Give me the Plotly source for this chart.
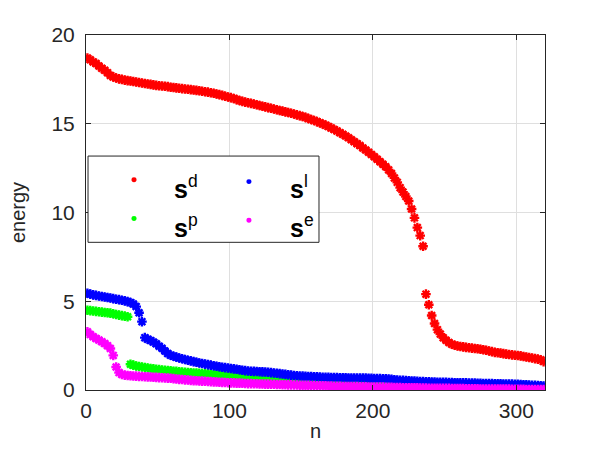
import plotly.graph_objects as go

# n indices (odd samples 1..319)
n_vals = list(range(1, 320, 2))

s_d = [
    18.70, 18.60, 18.48, 18.40, 18.25, 18.12, 18.02, 17.88, 17.72, 17.64,
    17.58, 17.53, 17.50, 17.46, 17.43, 17.41, 17.38, 17.35, 17.32, 17.30,
    17.27, 17.24, 17.22, 17.19, 17.16, 17.14, 17.13, 17.11, 17.09, 17.06,
    17.04, 17.02, 17.00, 16.98, 16.96, 16.94, 16.92, 16.90, 16.88, 16.86,
    16.83, 16.80, 16.78, 16.75, 16.72, 16.68, 16.64, 16.60, 16.55, 16.51,
    16.47, 16.42, 16.36, 16.31, 16.26, 16.22, 16.18, 16.15, 16.11, 16.07,
    16.03, 15.99, 15.95, 15.91, 15.87, 15.83, 15.79, 15.75, 15.71, 15.67,
    15.63, 15.59, 15.55, 15.50, 15.46, 15.41, 15.36, 15.30, 15.24, 15.18,
    15.12, 15.06, 14.99, 14.92, 14.84, 14.76, 14.68, 14.59, 14.50, 14.41,
    14.31, 14.21, 14.10, 13.99, 13.88, 13.77, 13.64, 13.52, 13.40, 13.27,
    13.14, 13.00, 12.86, 12.72, 12.58, 12.40, 12.20, 11.95, 11.70, 11.40,
    11.15, 10.90, 10.65, 10.20, 9.70, 9.15, 8.70, 8.10, 5.40, 4.80,
    4.20, 3.75, 3.40, 3.15, 2.95, 2.80, 2.68, 2.58, 2.52, 2.48,
    2.45, 2.43, 2.40, 2.38, 2.36, 2.34, 2.32, 2.30, 2.27, 2.24,
    2.20, 2.16, 2.12, 2.10, 2.08, 2.05, 2.02, 2.00, 1.98, 1.96,
    1.94, 1.92, 1.89, 1.86, 1.83, 1.80, 1.77, 1.74, 1.70, 1.60,
]

s_p = [
    4.49, 4.47, 4.45, 4.43, 4.41, 4.39, 4.37, 4.35, 4.33, 4.30,
    4.25, 4.22, 4.19, 4.16, 4.13, 1.45, 1.40, 1.35, 1.32, 1.30,
    1.27, 1.24, 1.21, 1.19, 1.17, 1.15, 1.13, 1.11, 1.10, 1.08,
    1.06, 1.05, 1.03, 1.01, 1.00, 0.99, 0.97, 0.96, 0.95, 0.94,
    0.93, 0.92, 0.91, 0.90, 0.89, 0.88, 0.87, 0.86, 0.85, 0.84,
    0.82, 0.81, 0.79, 0.77, 0.75, 0.74, 0.73, 0.72, 0.71, 0.70,
    0.69, 0.68, 0.67, 0.66, 0.65, 0.64, 0.63, 0.62, 0.61, 0.60,
    0.60, 0.59, 0.59, 0.58, 0.58, 0.57, 0.57, 0.56, 0.56, 0.55,
    0.55, 0.54, 0.54, 0.53, 0.53, 0.52, 0.52, 0.51, 0.51, 0.50,
    0.50, 0.49, 0.49, 0.49, 0.48, 0.48, 0.48, 0.47, 0.47, 0.47,
    0.46, 0.46, 0.46, 0.45, 0.45, 0.45, 0.44, 0.44, 0.44, 0.43,
    0.43, 0.43, 0.42, 0.42, 0.41, 0.41, 0.40, 0.39, 0.38, 0.37,
    0.36, 0.35, 0.34, 0.33, 0.32, 0.31, 0.30, 0.29, 0.28, 0.27,
    0.26, 0.25, 0.24, 0.23, 0.22, 0.21, 0.20, 0.19, 0.18, 0.17,
    0.16, 0.15, 0.14, 0.13, 0.12, 0.11, 0.10, 0.09, 0.08, 0.07,
    0.07, 0.06, 0.06, 0.05, 0.05, 0.04, 0.04, 0.03, 0.03, 0.02,
]

s_l = [
    5.45, 5.40, 5.36, 5.33, 5.30, 5.27, 5.24, 5.21, 5.18, 5.15,
    5.11, 5.09, 5.06, 5.02, 4.98, 4.93, 4.85, 4.70, 4.35, 3.85,
    2.95, 2.86, 2.79, 2.70, 2.60, 2.47, 2.35, 2.20, 2.05, 1.96,
    1.90, 1.85, 1.80, 1.76, 1.72, 1.68, 1.64, 1.60, 1.56, 1.52,
    1.49, 1.46, 1.43, 1.40, 1.37, 1.34, 1.31, 1.28, 1.26, 1.24,
    1.21, 1.19, 1.17, 1.14, 1.11, 1.09, 1.07, 1.06, 1.05, 1.04,
    1.03, 1.02, 1.01, 1.00, 0.98, 0.96, 0.94, 0.92, 0.90, 0.88,
    0.86, 0.84, 0.82, 0.80, 0.79, 0.78, 0.77, 0.76, 0.76, 0.75,
    0.74, 0.73, 0.72, 0.71, 0.71, 0.70, 0.70, 0.70, 0.69, 0.69,
    0.69, 0.68, 0.68, 0.68, 0.67, 0.67, 0.67, 0.67, 0.66, 0.66,
    0.65, 0.64, 0.64, 0.63, 0.63, 0.62, 0.60, 0.58, 0.56, 0.55,
    0.54, 0.53, 0.52, 0.51, 0.50, 0.49, 0.48, 0.47, 0.46, 0.46,
    0.45, 0.45, 0.44, 0.44, 0.43, 0.43, 0.42, 0.42, 0.41, 0.41,
    0.40, 0.40, 0.40, 0.39, 0.39, 0.39, 0.38, 0.38, 0.37, 0.37,
    0.36, 0.36, 0.35, 0.35, 0.35, 0.34, 0.34, 0.33, 0.33, 0.32,
    0.32, 0.31, 0.30, 0.29, 0.28, 0.27, 0.26, 0.25, 0.24, 0.22,
]

s_e = [
    3.28, 3.12, 3.00, 2.90, 2.82, 2.72, 2.62, 2.50, 2.34, 1.95,
    1.30, 0.98, 0.88, 0.84, 0.82, 0.80, 0.79, 0.78, 0.77, 0.76,
    0.75, 0.74, 0.73, 0.72, 0.71, 0.70, 0.69, 0.68, 0.67, 0.66,
    0.64, 0.62, 0.60, 0.59, 0.57, 0.56, 0.54, 0.53, 0.52, 0.51,
    0.50, 0.49, 0.48, 0.47, 0.46, 0.45, 0.44, 0.43, 0.42, 0.41,
    0.40, 0.40, 0.39, 0.39, 0.38, 0.37, 0.36, 0.36, 0.35, 0.35,
    0.34, 0.34, 0.33, 0.33, 0.32, 0.32, 0.31, 0.31, 0.30, 0.30,
    0.29, 0.29, 0.28, 0.28, 0.27, 0.27, 0.26, 0.26, 0.25, 0.25,
    0.24, 0.24, 0.23, 0.23, 0.22, 0.22, 0.21, 0.21, 0.21, 0.20,
    0.20, 0.20, 0.19, 0.19, 0.19, 0.18, 0.18, 0.18, 0.17, 0.17,
    0.17, 0.16, 0.16, 0.16, 0.15, 0.15, 0.15, 0.14, 0.14, 0.14,
    0.13, 0.13, 0.13, 0.12, 0.12, 0.12, 0.11, 0.11, 0.11, 0.10,
    0.10, 0.10, 0.10, 0.09, 0.09, 0.09, 0.09, 0.08, 0.08, 0.08,
    0.08, 0.08, 0.07, 0.07, 0.07, 0.07, 0.07, 0.06, 0.06, 0.06,
    0.06, 0.06, 0.06, 0.05, 0.05, 0.05, 0.05, 0.05, 0.04, 0.04,
    0.04, 0.04, 0.04, 0.03, 0.03, 0.03, 0.03, 0.02, 0.02, 0.02,
]

series_names = ["s<sup>d</sup>", "s<sup>p</sup>", "s<sup>l</sup>", "s<sup>e</sup>"]
series_vals = [s_d, s_p, s_l, s_e]
series_colors = ["#ff0000", "#00ff00", "#0000ff", "#ff00ff"]
legend_labels = ["d", "p", "l", "e"]

x_ticks = [0, 100, 200, 300]
y_ticks = [0, 5, 10, 15, 20]

AX = "#262626"
GRID = "#dfdfdf"
FONT = "Liberation Sans, Arial, sans-serif"

fig = go.Figure()
for name, vals, col in zip(series_names, series_vals, series_colors):
    fig.add_trace(go.Scatter(
        x=n_vals, y=vals, mode="markers", name=name,
        marker=dict(symbol="asterisk-open", size=8, color=col,
                    line=dict(color=col, width=2.4)),
        showlegend=False, hoverinfo="skip",
    ))

axis_common = dict(
    showline=True, linecolor=AX, linewidth=1, mirror="ticks",
    ticks="inside", ticklen=5, tickcolor=AX,
    showgrid=True, gridcolor=GRID, gridwidth=1, zeroline=False,
    tickfont=dict(family=FONT, size=21, color=AX),
)

fig.update_xaxes(range=[0, 320], tickvals=x_ticks, ticklabelstandoff=2,
                 title=dict(text="n", font=dict(family=FONT, size=20, color=AX), standoff=2),
                 **axis_common)
fig.update_yaxes(range=[0, 20], tickvals=y_ticks, ticklabelstandoff=6,
                 title=dict(text="energy", font=dict(family=FONT, size=20, color=AX), standoff=20),
                 **axis_common)

# custom legend (2 columns) in paper coordinates
shapes = [dict(type="rect", xref="paper", yref="paper",
               x0=0.0044, x1=0.5076, y0=0.416, y1=0.659,
               line=dict(color=AX, width=1), fillcolor="white", layer="above")]
annotations = []
leg_pos = [(0.1046, 0.592, 0.187, 0.572), (0.1046, 0.483, 0.187, 0.463),
           (0.355, 0.587, 0.440, 0.572), (0.355, 0.478, 0.440, 0.463)]
for (dx, dy, tx, ty), col, lab in zip(leg_pos, series_colors, legend_labels):
    rx, ry = 0.0055, 0.007
    shapes.append(dict(type="circle", xref="paper", yref="paper",
                       x0=dx - rx, x1=dx + rx, y0=dy - ry, y1=dy + ry,
                       fillcolor=col, line=dict(color=col, width=0), layer="above"))
    annotations.append(dict(xref="paper", yref="paper", x=tx, y=ty,
                            xanchor="left", yanchor="middle", showarrow=False,
                            text="<b>s</b><sup>" + lab + "</sup>",
                            font=dict(family=FONT, size=25, color="#000000")))

fig.update_layout(
    width=600, height=450,
    margin=dict(l=86, r=55, t=35, b=57),
    paper_bgcolor="white", plot_bgcolor="white",
    shapes=shapes, annotations=annotations,
    showlegend=False,
)

fig.write_html("out.html")
